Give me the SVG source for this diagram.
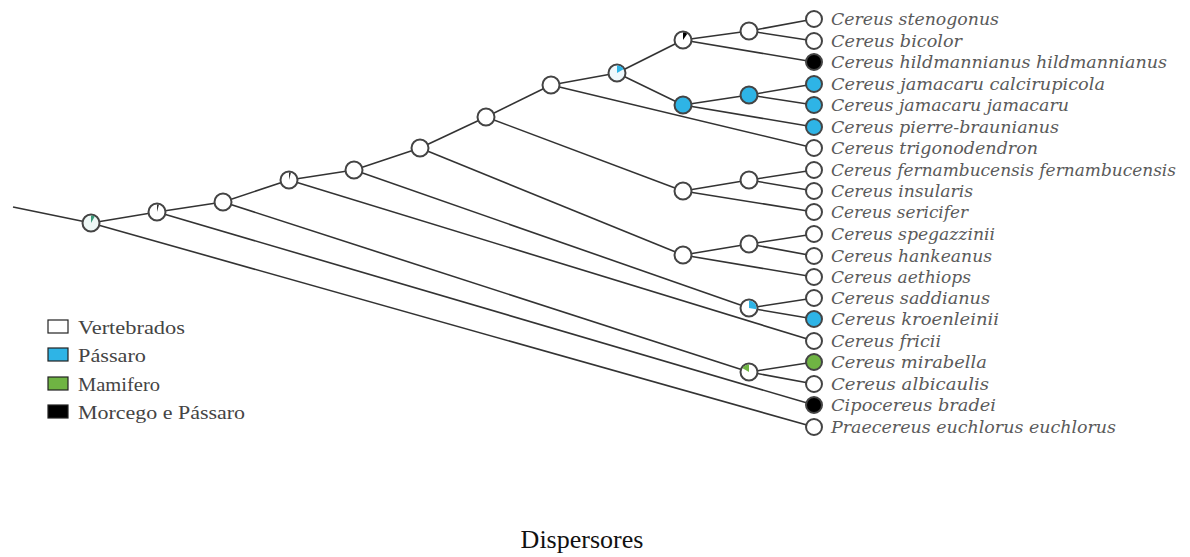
<svg xmlns="http://www.w3.org/2000/svg" width="1190" height="557" viewBox="0 0 1190 557">
  <defs>
    <style>
      .edge { stroke: #333; stroke-width: 1.6; fill: none; }
      .node { stroke: #444; stroke-width: 2; fill: #fff; }
      .blue { fill: #2eb4e6; }
      .green { fill: #6fb443; }
      .black { fill: #000; }
      .tip { font-family: "DejaVu Serif", "Liberation Serif", serif; font-style: italic; font-size: 16px; fill: #5a5a5a; }
      .legend { font-family: "Liberation Serif", "Times New Roman", serif; font-size: 19px; fill: #444; }
      .title { font-family: "Liberation Serif", "Times New Roman", serif; font-size: 26px; fill: #111; }
      .box { stroke: #222; stroke-width: 1.2; }
    </style>
  </defs>
  <rect width="1190" height="557" fill="#fff"/>

  <!-- branches -->
  <g id="connectors">
    <line class="edge" x1="13" y1="207" x2="91" y2="223"/>
    <line class="edge" x1="91" y1="223" x2="157" y2="212"/>
    <line class="edge" x1="91" y1="223" x2="814" y2="427"/>
    <line class="edge" x1="157" y1="212" x2="223" y2="202"/>
    <line class="edge" x1="157" y1="212" x2="814" y2="405"/>
    <line class="edge" x1="223" y1="202" x2="289" y2="180"/>
    <line class="edge" x1="223" y1="202" x2="749" y2="372"/>
    <line class="edge" x1="289" y1="180" x2="354" y2="170"/>
    <line class="edge" x1="289" y1="180" x2="814" y2="341"/>
    <line class="edge" x1="354" y1="170" x2="420" y2="148"/>
    <line class="edge" x1="354" y1="170" x2="749" y2="308"/>
    <line class="edge" x1="420" y1="148" x2="486" y2="117"/>
    <line class="edge" x1="420" y1="148" x2="683" y2="255"/>
    <line class="edge" x1="486" y1="117" x2="551" y2="85"/>
    <line class="edge" x1="486" y1="117" x2="683" y2="191"/>
    <line class="edge" x1="551" y1="85" x2="617" y2="73"/>
    <line class="edge" x1="551" y1="85" x2="814" y2="148"/>
    <line class="edge" x1="617" y1="73" x2="683" y2="40"/>
    <line class="edge" x1="617" y1="73" x2="683" y2="105"/>
    <line class="edge" x1="683" y1="40" x2="749" y2="31"/>
    <line class="edge" x1="683" y1="40" x2="814" y2="62"/>
    <line class="edge" x1="749" y1="31" x2="814" y2="19"/>
    <line class="edge" x1="749" y1="31" x2="814" y2="41"/>
    <line class="edge" x1="683" y1="105" x2="749" y2="95"/>
    <line class="edge" x1="683" y1="105" x2="814" y2="127"/>
    <line class="edge" x1="749" y1="95" x2="814" y2="84"/>
    <line class="edge" x1="749" y1="95" x2="814" y2="105"/>
    <line class="edge" x1="683" y1="191" x2="749" y2="180"/>
    <line class="edge" x1="683" y1="191" x2="814" y2="212"/>
    <line class="edge" x1="749" y1="180" x2="814" y2="170"/>
    <line class="edge" x1="749" y1="180" x2="814" y2="191"/>
    <line class="edge" x1="683" y1="255" x2="749" y2="244"/>
    <line class="edge" x1="683" y1="255" x2="814" y2="277"/>
    <line class="edge" x1="749" y1="244" x2="814" y2="234"/>
    <line class="edge" x1="749" y1="244" x2="814" y2="256"/>
    <line class="edge" x1="749" y1="308" x2="814" y2="298"/>
    <line class="edge" x1="749" y1="308" x2="814" y2="319"/>
    <line class="edge" x1="749" y1="372" x2="814" y2="362"/>
    <line class="edge" x1="749" y1="372" x2="814" y2="384"/>
  </g>

  <!-- internal nodes with state pies -->
  <g id="n-a"><circle class="node" cx="91" cy="223" r="8.5" style="fill:#eef8f6"/><path d="M91,223 L91,215.5 A7.5,7.5 0 0 1 94.75,216.5 Z" fill="#3a9a7a"/></g>
  <g id="n-b"><circle class="node" cx="157" cy="212" r="8.5"/><path d="M157,212 L157,204.5 A7.5,7.5 0 0 1 158.94,204.76 Z" fill="#333"/></g>
  <g id="n-c"><circle class="node" cx="223" cy="202" r="8.5"/></g>
  <g id="n-d"><circle class="node" cx="289" cy="180" r="8.5"/><path d="M289,180 L289,172.5 A7.5,7.5 0 0 1 290.94,172.76 Z" fill="#333"/></g>
  <g id="n-e"><circle class="node" cx="354" cy="170" r="8.5"/></g>
  <g id="n-f"><circle class="node" cx="420" cy="148" r="8.5"/></g>
  <g id="n-g"><circle class="node" cx="486" cy="117" r="8.5"/></g>
  <g id="n-h"><circle class="node" cx="551" cy="85" r="8.5"/></g>
  <g id="n-i"><circle class="node" cx="617" cy="73" r="8.5" style="fill:#eef8fc"/><path d="M617,73 L617,65.5 A7.5,7.5 0 0 1 623.5,69.25 Z" class="blue"/></g>
  <g id="n-j"><circle class="node" cx="683" cy="40" r="8.5"/><path d="M683,40 L683,32.5 A7.5,7.5 0 0 1 687.3,33.86 Z" class="black"/></g>
  <g id="n-k"><circle class="node" cx="749" cy="31" r="8.5"/></g>
  <g id="n-p"><circle class="node" cx="683" cy="105" r="8.5" style="fill:#2eb4e6"/></g>
  <g id="n-q"><circle class="node" cx="749" cy="95" r="8.5" style="fill:#2eb4e6"/></g>
  <g id="n-u"><circle class="node" cx="683" cy="191" r="8.5"/></g>
  <g id="n-v"><circle class="node" cx="749" cy="180" r="8.5"/></g>
  <g id="n-t"><circle class="node" cx="683" cy="255" r="8.5"/></g>
  <g id="n-w"><circle class="node" cx="749" cy="244" r="8.5"/></g>
  <g id="n-s"><circle class="node" cx="749" cy="308" r="8.5"/><path d="M749,308 L749,300.5 A7.5,7.5 0 0 1 756.39,309.3 Z" class="blue"/></g>
  <g id="n-m"><circle class="node" cx="749" cy="372" r="8.5"/><path d="M749,372 L749,364.5 A7.5,7.5 0 0 0 742.5,368.25 Z" class="green"/></g>

  <!-- tips -->
  <g id="tip-stenogonus"><circle class="node" cx="814" cy="19" r="8"/><text class="tip" x="831" y="25" textLength="168" lengthAdjust="spacingAndGlyphs">Cereus stenogonus</text></g>
  <g id="tip-bicolor"><circle class="node" cx="814" cy="41" r="8"/><text class="tip" x="831" y="47" textLength="131" lengthAdjust="spacingAndGlyphs">Cereus bicolor</text></g>
  <g id="tip-hildmannianus"><circle class="node" cx="814" cy="62" r="8" style="fill:#000"/><text class="tip" x="831" y="68" textLength="336" lengthAdjust="spacingAndGlyphs">Cereus hildmannianus hildmannianus</text></g>
  <g id="tip-calcirupicola"><circle class="node" cx="814" cy="84" r="8" style="fill:#2eb4e6"/><text class="tip" x="831" y="90" textLength="274" lengthAdjust="spacingAndGlyphs">Cereus jamacaru calcirupicola</text></g>
  <g id="tip-jamacaru"><circle class="node" cx="814" cy="105" r="8" style="fill:#2eb4e6"/><text class="tip" x="831" y="111" textLength="238" lengthAdjust="spacingAndGlyphs">Cereus jamacaru jamacaru</text></g>
  <g id="tip-pierre"><circle class="node" cx="814" cy="127" r="8" style="fill:#2eb4e6"/><text class="tip" x="831" y="133" textLength="228" lengthAdjust="spacingAndGlyphs">Cereus pierre-braunianus</text></g>
  <g id="tip-trigonodendron"><circle class="node" cx="814" cy="148" r="8"/><text class="tip" x="831" y="154" textLength="207" lengthAdjust="spacingAndGlyphs">Cereus trigonodendron</text></g>
  <g id="tip-fernambucensis"><circle class="node" cx="814" cy="170" r="8"/><text class="tip" x="831" y="176" textLength="345" lengthAdjust="spacingAndGlyphs">Cereus fernambucensis fernambucensis</text></g>
  <g id="tip-insularis"><circle class="node" cx="814" cy="191" r="8"/><text class="tip" x="831" y="197" textLength="142" lengthAdjust="spacingAndGlyphs">Cereus insularis</text></g>
  <g id="tip-sericifer"><circle class="node" cx="814" cy="212" r="8"/><text class="tip" x="831" y="218" textLength="137" lengthAdjust="spacingAndGlyphs">Cereus sericifer</text></g>
  <g id="tip-spegazzinii"><circle class="node" cx="814" cy="234" r="8"/><text class="tip" x="831" y="240" textLength="164" lengthAdjust="spacingAndGlyphs">Cereus spegazzinii</text></g>
  <g id="tip-hankeanus"><circle class="node" cx="814" cy="256" r="8"/><text class="tip" x="831" y="262" textLength="161" lengthAdjust="spacingAndGlyphs">Cereus hankeanus</text></g>
  <g id="tip-aethiops"><circle class="node" cx="814" cy="277" r="8"/><text class="tip" x="831" y="283" textLength="140" lengthAdjust="spacingAndGlyphs">Cereus aethiops</text></g>
  <g id="tip-saddianus"><circle class="node" cx="814" cy="298" r="8"/><text class="tip" x="831" y="304" textLength="159" lengthAdjust="spacingAndGlyphs">Cereus saddianus</text></g>
  <g id="tip-kroenleinii"><circle class="node" cx="814" cy="319" r="8" style="fill:#2eb4e6"/><text class="tip" x="831" y="325" textLength="168" lengthAdjust="spacingAndGlyphs">Cereus kroenleinii</text></g>
  <g id="tip-fricii"><circle class="node" cx="814" cy="341" r="8"/><text class="tip" x="831" y="347" textLength="110" lengthAdjust="spacingAndGlyphs">Cereus fricii</text></g>
  <g id="tip-mirabella"><circle class="node" cx="814" cy="362" r="8" style="fill:#6fb443"/><text class="tip" x="831" y="368" textLength="156" lengthAdjust="spacingAndGlyphs">Cereus mirabella</text></g>
  <g id="tip-albicaulis"><circle class="node" cx="814" cy="384" r="8"/><text class="tip" x="831" y="390" textLength="158" lengthAdjust="spacingAndGlyphs">Cereus albicaulis</text></g>
  <g id="tip-bradei"><circle class="node" cx="814" cy="405" r="8" style="fill:#000"/><text class="tip" x="831" y="411" textLength="165" lengthAdjust="spacingAndGlyphs">Cipocereus bradei</text></g>
  <g id="tip-praecereus"><circle class="node" cx="814" cy="427" r="8"/><text class="tip" x="831" y="433" textLength="285" lengthAdjust="spacingAndGlyphs">Praecereus euchlorus euchlorus</text></g>

  <!-- legend -->
  <g id="legend">
    <rect class="box" x="48" y="320" width="20" height="13" fill="#fff"/>
    <text class="legend" x="78" y="334" textLength="107" lengthAdjust="spacingAndGlyphs">Vertebrados</text>
    <rect class="box" x="48" y="348" width="20" height="13" fill="#2eb4e6"/>
    <text class="legend" x="78" y="362" textLength="68" lengthAdjust="spacingAndGlyphs">Pássaro</text>
    <rect class="box" x="48" y="377" width="20" height="13" fill="#6fb443"/>
    <text class="legend" x="78" y="391" textLength="82" lengthAdjust="spacingAndGlyphs">Mamifero</text>
    <rect class="box" x="48" y="405" width="20" height="13" fill="#000"/>
    <text class="legend" x="78" y="419" textLength="167" lengthAdjust="spacingAndGlyphs">Morcego e Pássaro</text>
  </g>

  <text id="title" class="title" x="582" y="548" text-anchor="middle">Dispersores</text>
</svg>
